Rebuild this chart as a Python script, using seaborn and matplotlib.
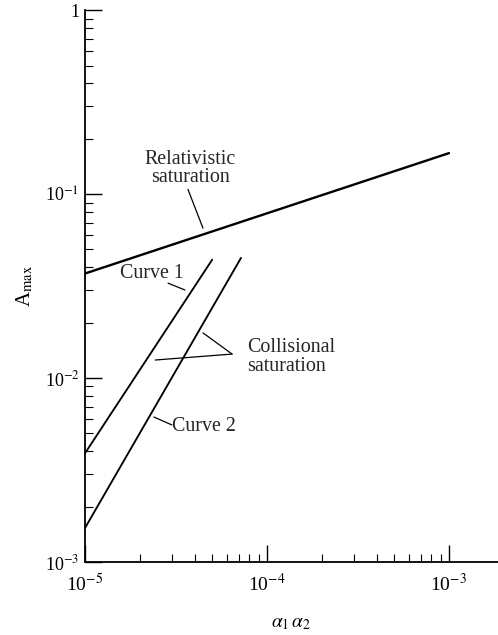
"""
Saturation amplitude A_max versus alpha1*alpha2 (log-log), recreated with seaborn.
"""

import numpy as np
import pandas as pd
import matplotlib
matplotlib.use("Agg")
import matplotlib.pyplot as plt
import matplotlib.ticker as mticker
import seaborn as sns

# Data
rel_x = [1e-5, 1e-3]
rel_y = [0.037, 0.167]

curve1_x = [1e-5, 5.0e-5]
curve1_y = [0.0039, 0.044]

curve2_x = [1e-5, 7.2e-5]
curve2_y = [0.00153, 0.045]

x_ticks = [1e-5, 1e-4, 1e-3]
x_tick_labels = ["10$^{-5}$", "10$^{-4}$", "10$^{-3}$"]
y_ticks = [1e-3, 1e-2, 1e-1, 1]
y_tick_labels = ["10$^{-3}$", "10$^{-2}$", "10$^{-1}$", "1"]

sns.set_theme(style="ticks")
plt.rcParams["font.family"] = ["Liberation Serif", "DejaVu Serif"]
plt.rcParams["mathtext.fontset"] = "stix"

fig = plt.figure(figsize=(4.98, 6.35), dpi=100)
ax = fig.add_axes([0.1707, 0.115, 0.8293, 0.869])
ax.set_xscale("log")
ax.set_yscale("log")

# Draw the three lines
sns.lineplot(x=rel_x, y=rel_y, color="black", linewidth=1.7, ax=ax)
sns.lineplot(x=curve1_x, y=curve1_y, color="black", linewidth=1.35, ax=ax)
sns.lineplot(x=curve2_x, y=curve2_y, color="black", linewidth=1.35, ax=ax)

ax.set_xlim(1e-5, 1.86e-3)
ax.set_ylim(1e-3, 1)

# Axes styling
sns.despine(ax=ax)
for side in ("left", "bottom"):
    ax.spines[side].set_linewidth(1.3)
    ax.spines[side].set_color("black")

ax.xaxis.set_major_locator(mticker.FixedLocator(x_ticks))
ax.xaxis.set_major_formatter(mticker.FixedFormatter(x_tick_labels))
ax.yaxis.set_major_locator(mticker.FixedLocator(y_ticks))
ax.yaxis.set_major_formatter(mticker.FixedFormatter(y_tick_labels))
ax.xaxis.set_minor_locator(mticker.LogLocator(base=10, subs=np.arange(2, 10)))
ax.yaxis.set_minor_locator(mticker.LogLocator(base=10, subs=np.arange(2, 10)))
ax.xaxis.set_minor_formatter(mticker.NullFormatter())
ax.yaxis.set_minor_formatter(mticker.NullFormatter())

ax.tick_params(axis="both", which="major", direction="in", length=12, width=1.0,
               color="black", labelcolor="black")
ax.tick_params(axis="both", which="minor", direction="in", length=5.5, width=0.8,
               color="black")
ax.tick_params(axis="x", which="major", labelsize=14, pad=8)
ax.tick_params(axis="y", which="major", labelsize=13, pad=4)

ax.set_xlabel(r"$\alpha_1\,\alpha_2$", fontsize=14, labelpad=14, color="black")
ax.set_ylabel(r"A$_{\rm max}$", fontsize=15, color="black")
ax.yaxis.set_label_coords(-0.12, 0.5)

# Annotations with leader lines
text_size = 14.4
line_kw = dict(arrowstyle="-", color="black", linewidth=0.9, shrinkA=0, shrinkB=0)

ax.text(3.78e-5, 0.138, "Relativistic\nsaturation", ha="center", va="center",
        fontsize=text_size, linespacing=0.95)
ax.annotate("", xy=(4.45e-5, 0.0653), xytext=(3.68e-5, 0.106), arrowprops=line_kw)

ax.text(2.33e-5, 0.0372, "Curve 1", ha="center", va="center", fontsize=text_size)
ax.annotate("", xy=(3.54e-5, 0.0301), xytext=(2.86e-5, 0.0328), arrowprops=line_kw)

ax.text(3.02e-5, 0.00548, "Curve 2", ha="left", va="center", fontsize=text_size)
ax.annotate("", xy=(2.39e-5, 0.00614), xytext=(3.0e-5, 0.00556), arrowprops=line_kw)

ax.text(7.76e-5, 0.0130, "Collisional\nsaturation", ha="left", va="center",
        fontsize=text_size, linespacing=0.95)
ax.annotate("", xy=(4.45e-5, 0.0176), xytext=(6.43e-5, 0.0135), arrowprops=line_kw)
ax.annotate("", xy=(2.43e-5, 0.01253), xytext=(6.43e-5, 0.0135), arrowprops=line_kw)

fig.savefig("out.png", dpi=100)
plt.close(fig)
